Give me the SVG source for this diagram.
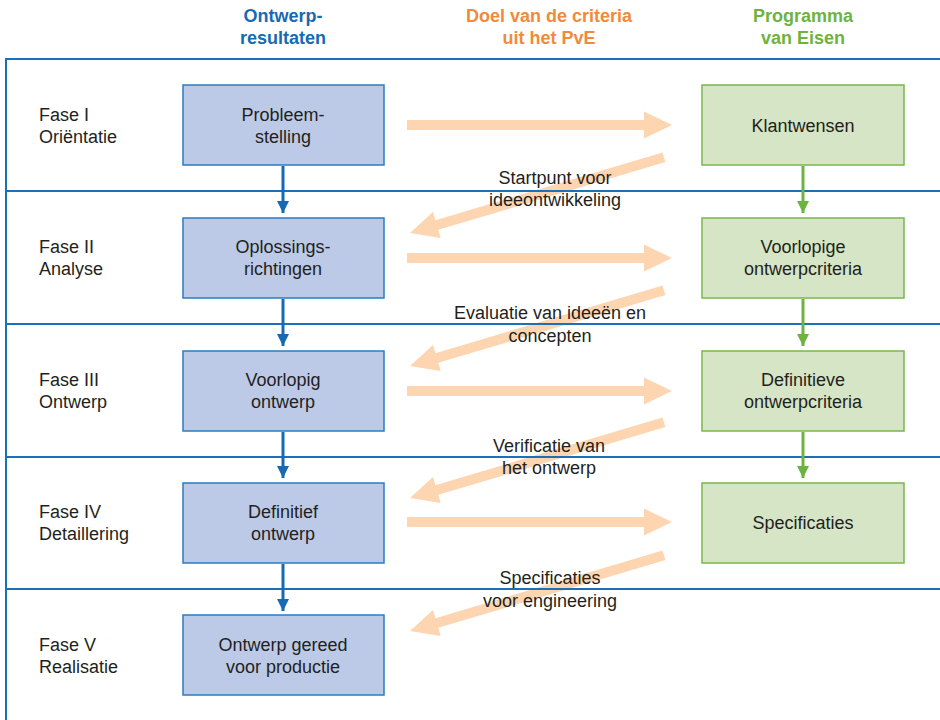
<svg xmlns="http://www.w3.org/2000/svg" width="940" height="720" viewBox="0 0 940 720">
<defs>
<style>
.hdr{font-family:"Liberation Sans Narrow","Liberation Sans",Arial,sans-serif;font-weight:bold;font-size:18px;text-anchor:middle}
.t{font-family:"Liberation Sans Narrow","Liberation Sans",Arial,sans-serif;font-size:18px;fill:#231f20}
.c{text-anchor:middle}
.bb{fill:#bccae8;stroke:#2b7cc1;stroke-width:1.5}
.gb{fill:#d5e5c5;stroke:#78b84a;stroke-width:1.5}
.grid{stroke:#1c70b8;stroke-width:2;fill:none}
.pe{fill:#fdd5b1}
</style>
<path id="ar" d="M-265,-5 L-28,-5 L-28,-13.5 L0,0 L-28,13.5 L-28,5 L-265,5 Z"/>
<marker id="mb" markerWidth="12" markerHeight="12" viewBox="0 0 12 12" refX="12" refY="6" orient="auto" markerUnits="userSpaceOnUse"><path d="M0,0 L12,6 L0,12 Z" fill="#1769b3"/></marker>
<marker id="mg" markerWidth="12" markerHeight="12" viewBox="0 0 12 12" refX="12" refY="6" orient="auto" markerUnits="userSpaceOnUse"><path d="M0,0 L12,6 L0,12 Z" fill="#6db33f"/></marker>
</defs>
<rect width="940" height="720" fill="#fff"/>

<g id="headers">
<text class="hdr" x="283" y="22" fill="#1769b3">Ontwerp-</text>
<text class="hdr" x="283" y="44" fill="#1769b3">resultaten</text>
<text class="hdr" x="549" y="22" fill="#f08a3c">Doel van de criteria</text>
<text class="hdr" x="549" y="44" fill="#f08a3c">uit het PvE</text>
<text class="hdr" x="803" y="22" fill="#6db33f">Programma</text>
<text class="hdr" x="803" y="44" fill="#6db33f">van Eisen</text>
</g>

<g id="peach-arrows">
<use href="#ar" class="pe" transform="translate(672,125)"/>
<use href="#ar" class="pe" transform="translate(672,258)"/>
<use href="#ar" class="pe" transform="translate(672,391)"/>
<use href="#ar" class="pe" transform="translate(672,522)"/>
<use href="#ar" class="pe" transform="translate(410,233) rotate(163.4)"/>
<use href="#ar" class="pe" transform="translate(410,366) rotate(163.4)"/>
<use href="#ar" class="pe" transform="translate(410,498) rotate(163.4)"/>
<use href="#ar" class="pe" transform="translate(410,631) rotate(163.4)"/>
</g>

<g id="grid">
<path class="grid" d="M940,59 H6 V720"/>
<path class="grid" d="M6,191 H940 M6,324 H940 M6,457 H940 M6,589 H940"/>
</g>

<g id="phases">
<text class="t" x="39" y="121">Fase I</text><text class="t" x="39" y="143">Oriëntatie</text>
<text class="t" x="39" y="253">Fase II</text><text class="t" x="39" y="275">Analyse</text>
<text class="t" x="39" y="386">Fase III</text><text class="t" x="39" y="408">Ontwerp</text>
<text class="t" x="39" y="518">Fase IV</text><text class="t" x="39" y="540">Detaillering</text>
<text class="t" x="39" y="651">Fase V</text><text class="t" x="39" y="673">Realisatie</text>
</g>

<g id="connectors">
<line x1="283" y1="166" x2="283" y2="213" stroke="#1769b3" stroke-width="3" marker-end="url(#mb)"/>
<line x1="283" y1="299" x2="283" y2="346" stroke="#1769b3" stroke-width="3" marker-end="url(#mb)"/>
<line x1="283" y1="432" x2="283" y2="478" stroke="#1769b3" stroke-width="3" marker-end="url(#mb)"/>
<line x1="283" y1="564" x2="283" y2="611" stroke="#1769b3" stroke-width="3" marker-end="url(#mb)"/>
<line x1="803" y1="166" x2="803" y2="213" stroke="#6db33f" stroke-width="3" marker-end="url(#mg)"/>
<line x1="803" y1="299" x2="803" y2="346" stroke="#6db33f" stroke-width="3" marker-end="url(#mg)"/>
<line x1="803" y1="432" x2="803" y2="478" stroke="#6db33f" stroke-width="3" marker-end="url(#mg)"/>
</g>

<g id="labels">
<text class="t c" x="555" y="184">Startpunt voor</text><text class="t c" x="555" y="206">ideeontwikkeling</text>
<text class="t c" x="550" y="319">Evaluatie van ideeën en</text><text class="t c" x="550" y="342">concepten</text>
<text class="t c" x="549" y="452">Verificatie van</text><text class="t c" x="549" y="474">het ontwerp</text>
<text class="t c" x="550" y="584">Specificaties</text><text class="t c" x="550" y="607">voor engineering</text>
</g>

<g id="n-probleemstelling"><rect class="bb" x="183" y="85" width="201" height="80"/><text class="t c" x="283" y="121">Probleem-</text><text class="t c" x="283" y="143">stelling</text></g>
<g id="n-oplossingsrichtingen"><rect class="bb" x="183" y="218" width="201" height="80"/><text class="t c" x="283" y="253">Oplossings-</text><text class="t c" x="283" y="275">richtingen</text></g>
<g id="n-voorlopig-ontwerp"><rect class="bb" x="183" y="351" width="201" height="80"/><text class="t c" x="283" y="386">Voorlopig</text><text class="t c" x="283" y="408">ontwerp</text></g>
<g id="n-definitief-ontwerp"><rect class="bb" x="183" y="483" width="201" height="80"/><text class="t c" x="283" y="518">Definitief</text><text class="t c" x="283" y="540">ontwerp</text></g>
<g id="n-ontwerp-gereed"><rect class="bb" x="183" y="615" width="201" height="80"/><text class="t c" x="283" y="651">Ontwerp gereed</text><text class="t c" x="283" y="673">voor productie</text></g>

<g id="n-klantwensen"><rect class="gb" x="702" y="85" width="202" height="80"/><text class="t c" x="803" y="132">Klantwensen</text></g>
<g id="n-voorlopige-criteria"><rect class="gb" x="702" y="218" width="202" height="80"/><text class="t c" x="803" y="253">Voorlopige</text><text class="t c" x="803" y="275">ontwerpcriteria</text></g>
<g id="n-definitieve-criteria"><rect class="gb" x="702" y="351" width="202" height="80"/><text class="t c" x="803" y="386">Definitieve</text><text class="t c" x="803" y="408">ontwerpcriteria</text></g>
<g id="n-specificaties"><rect class="gb" x="702" y="483" width="202" height="80"/><text class="t c" x="803" y="529">Specificaties</text></g>
</svg>
